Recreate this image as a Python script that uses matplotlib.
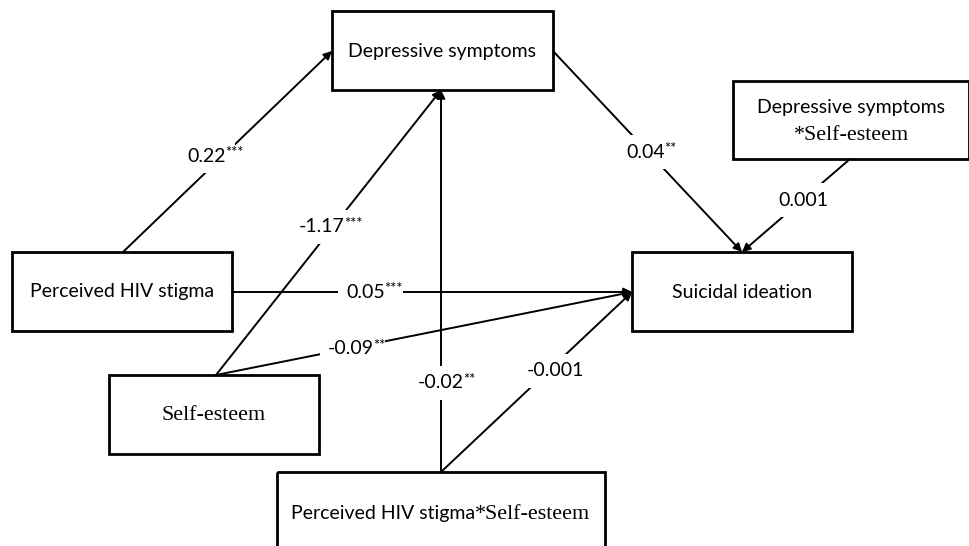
"""Path diagram: perceived HIV stigma, self-esteem, depressive symptoms
and suicidal ideation (moderated mediation coefficients)."""
import matplotlib.pyplot as plt
from matplotlib.patches import Rectangle

SANS = ["Lato", "DejaVu Sans"]
SERIF = ["Liberation Serif", "DejaVu Serif"]

# ---- data ----
# path source, target, coefficient and significance stars
path_src = ["phs", "se", "phs_se", "dep", "dep_se", "phs", "se", "phs_se"]
path_dst = ["dep", "dep", "dep", "si", "si", "si", "si", "si"]
coefs = ["0.22", "-1.17", "-0.02", "0.04", "0.001", "0.05", "-0.09", "-0.001"]
stars = ["***", "***", "**", "**", "", "***", "**", ""]

# ---- layout (pixel coords, y down) ----
boxes = {  # left, top, right, bottom
    "dep":    (332, 11, 553, 90),
    "dep_se": (733, 81, 969, 159),
    "phs":    (12, 252, 232, 331),
    "si":     (632, 252, 852, 331),
    "se":     (109, 375, 319, 454),
    "phs_se": (277, 472, 605, 580),
}
# arrow anchor points on each box
anchor_out = {"phs": {"dep": (123, 252), "si": (232, 292)},
              "se": {"dep": (216, 375), "si": (216, 375)},
              "phs_se": {"dep": (441, 472), "si": (441, 472)},
              "dep": {"si": (553, 51)},
              "dep_se": {"si": (850, 159)}}
anchor_in = {"dep": {"phs": (332, 51), "se": (441, 90), "phs_se": (441, 90)},
             "si": {"dep": (742, 252), "dep_se": (742, 252), "phs": (632, 292),
                    "se": (632, 292), "phs_se": (632, 292)}}
label_pos = [(207, 156), (322, 227), (441, 383), (646, 152),
             (803, 200), (366, 292), (351, 349), (555, 371)]

fig = plt.figure(figsize=(9.7, 5.46), dpi=100)
ax = fig.add_axes([0, 0, 1, 1])
ax.set_xlim(0, 970)
ax.set_ylim(546, 0)
ax.axis("off")

# boxes
for key, (l, t, r, b) in boxes.items():
    ax.add_patch(Rectangle((l, t), r - l, b - t, fill=False,
                           edgecolor="black", lw=2.0, zorder=2))

FS = 14
FSS = 15.8
ax.text(442, 52, "Depressive symptoms", family=SANS, fontsize=FS,
        ha="center", va="center")
ax.text(851, 108, "Depressive symptoms", family=SANS, fontsize=FS,
        ha="center", va="center")
ax.text(851, 135, "*Self-esteem", family=SERIF, fontsize=FSS,
        ha="center", va="center")
ax.text(122, 292, "Perceived HIV stigma", family=SANS, fontsize=FS,
        ha="center", va="center")
ax.text(742, 292, "Suicidal ideation", family=SANS, fontsize=FS,
        ha="center", va="center")
ax.text(214, 416, "Self-esteem", family=SERIF, fontsize=FSS,
        ha="center", va="center")
ax.text(475, 519, "Perceived HIV stigma", family=SANS, fontsize=FS,
        ha="right", va="baseline")
ax.text(475, 519, "*Self-esteem", family=SERIF, fontsize=FSS,
        ha="left", va="baseline")

# paths
for src, dst, c, s, (lx, ly) in zip(path_src, path_dst, coefs, stars, label_pos):
    p0 = anchor_out[src][dst]
    p1 = anchor_in[dst][src]
    ax.annotate("", xy=p1, xytext=p0,
                arrowprops=dict(arrowstyle="-|>", color="black", lw=1.4,
                                mutation_scale=12, shrinkA=0, shrinkB=0),
                zorder=1)
    t = ax.text(lx, ly, c, family=SANS, fontsize=FS, ha="center", va="center",
                zorder=3, bbox=dict(facecolor="white", edgecolor="none", pad=6))
    if s:
        ax.annotate(s, xy=(1, 1), xycoords=t, xytext=(-0.8, 1),
                    textcoords="offset points", family=SANS, fontsize=10.5,
                    ha="left", va="top", zorder=4,
                    bbox=dict(facecolor="white", edgecolor="none", pad=0.2))

fig.savefig("out.png", dpi=100)
